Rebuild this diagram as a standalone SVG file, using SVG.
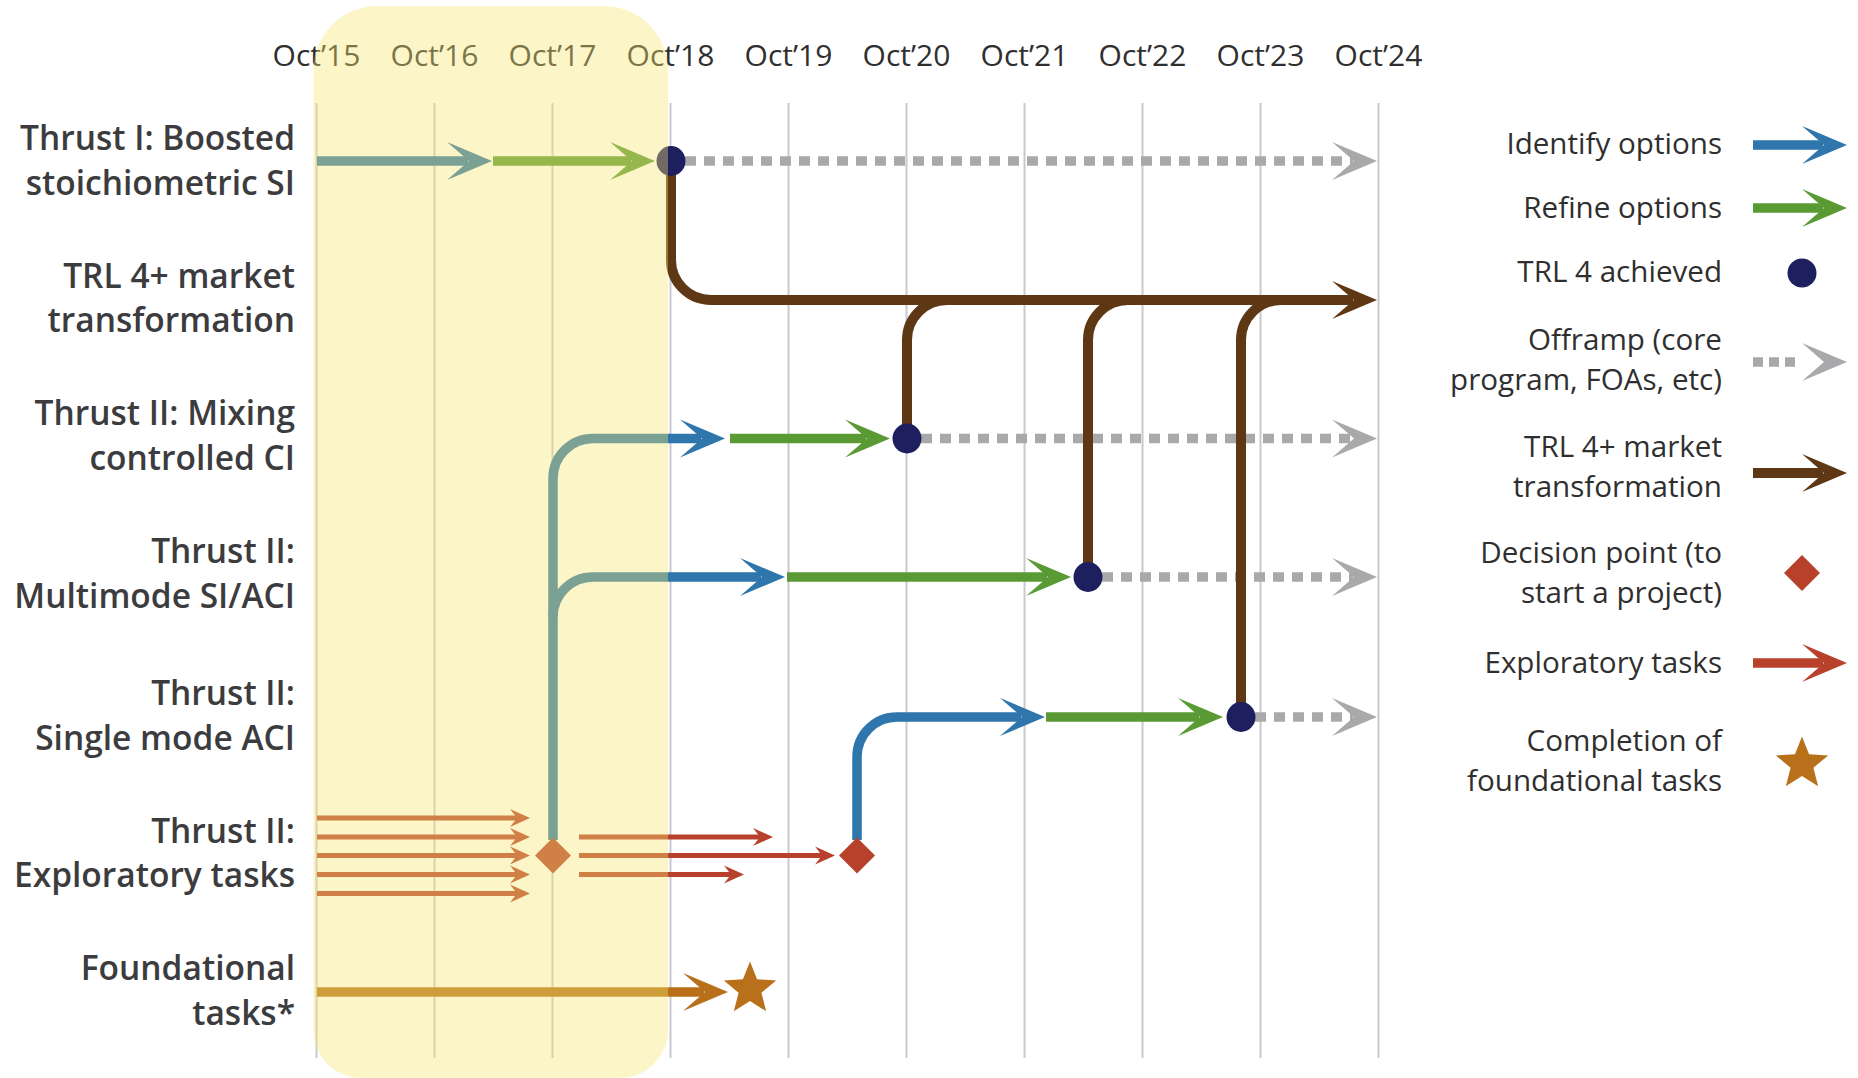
<svg xmlns="http://www.w3.org/2000/svg" xmlns:xlink="http://www.w3.org/1999/xlink" width="1858" height="1078" viewBox="0 0 1858 1078">
  <style>
    .year { font-family: "Open Sans", "Noto Sans", "Liberation Sans", sans-serif; font-size: 30px; fill: #2f2f2f; text-anchor: middle; }
    .row { font-family: "Open Sans", "Noto Sans", "Liberation Sans", sans-serif; font-size: 33.5px; font-weight: 600; fill: #3c3c3e; text-anchor: end; }
    .key { font-family: "Open Sans", "Noto Sans", "Liberation Sans", sans-serif; font-size: 29.6px; fill: #2f2f2f; text-anchor: end; }
    .grid line { stroke: #c9c9cd; stroke-width: 2; }
    .shaft { fill: none; stroke-width: 9.5; stroke-linecap: butt; }
    .thin { fill: none; stroke-width: 4.8; stroke: #b8412c; }
    .blue { stroke: #2e76ab; }
    .green { stroke: #5a9a34; }
    .brown { stroke: #5e3714; stroke-width: 10; }
    .gold { stroke: #b8701b; }
    .off { stroke: #a9a9ab; stroke-dasharray: 11 8; }
    .trl { fill: #1d1f5f; }
    .decision { fill: #b8412c; }
    .done { fill: #b8701b; }
  </style>
  <defs>
    <!-- notched arrowhead, tip 24 px ahead of the shaft end -->
    <path id="head" d="M24,0 L-21,-19 L1,0 L-21,19 Z"/>
    <!-- small arrowhead for the thin exploratory-task lines -->
    <path id="head-s" d="M10,0 L-10,-9 L-3,0 L-10,9 Z"/>
    <path id="diamond" d="M0,-18 L18,0 L0,18 L-18,0 Z"/>
    <path id="star" d="M0,-27.5 L7.05,-9.71 L26.16,-8.5 L11.41,3.71 L16.16,22.25 L0,12 L-16.16,22.25 L-11.41,3.71 L-26.16,-8.5 L-7.05,-9.71 Z"/>
    <marker id="m-blue" markerUnits="userSpaceOnUse" orient="auto" overflow="visible" markerWidth="1" markerHeight="1"><use xlink:href="#head" fill="#2e76ab"/></marker>
    <marker id="m-green" markerUnits="userSpaceOnUse" orient="auto" overflow="visible" markerWidth="1" markerHeight="1"><use xlink:href="#head" fill="#5a9a34"/></marker>
    <marker id="m-gray" markerUnits="userSpaceOnUse" orient="auto" overflow="visible" markerWidth="1" markerHeight="1"><use xlink:href="#head" fill="#a9a9ab"/></marker>
    <marker id="m-brown" markerUnits="userSpaceOnUse" orient="auto" overflow="visible" markerWidth="1" markerHeight="1"><use xlink:href="#head" fill="#5e3714"/></marker>
    <marker id="m-red" markerUnits="userSpaceOnUse" orient="auto" overflow="visible" markerWidth="1" markerHeight="1"><use xlink:href="#head" fill="#b8412c"/></marker>
    <marker id="m-gold" markerUnits="userSpaceOnUse" orient="auto" overflow="visible" markerWidth="1" markerHeight="1"><use xlink:href="#head" fill="#b8701b"/></marker>
    <marker id="m-red-s" markerUnits="userSpaceOnUse" orient="auto" overflow="visible" markerWidth="1" markerHeight="1"><use xlink:href="#head-s" fill="#b8412c"/></marker>
  </defs>

  <rect width="1858" height="1078" fill="#ffffff"/>

  <!-- yearly grid -->
  <g id="grid" class="grid">
    <line x1="316.5" y1="103" x2="316.5" y2="1058"/>
    <line x1="434.5" y1="103" x2="434.5" y2="1058"/>
    <line x1="552.5" y1="103" x2="552.5" y2="1058"/>
    <line x1="670.5" y1="103" x2="670.5" y2="1058"/>
    <line x1="788.5" y1="103" x2="788.5" y2="1058"/>
    <line x1="906.5" y1="103" x2="906.5" y2="1058"/>
    <line x1="1024.5" y1="103" x2="1024.5" y2="1058"/>
    <line x1="1142.5" y1="103" x2="1142.5" y2="1058"/>
    <line x1="1260.5" y1="103" x2="1260.5" y2="1058"/>
    <line x1="1378.5" y1="103" x2="1378.5" y2="1058"/>
  </g>

  <g id="years">
    <text class="year" x="316.5" y="66">Oct’15</text>
    <text class="year" x="434.5" y="66">Oct’16</text>
    <text class="year" x="552.5" y="66">Oct’17</text>
    <text class="year" x="670.5" y="66">Oct’18</text>
    <text class="year" x="788.5" y="66">Oct’19</text>
    <text class="year" x="906.5" y="66">Oct’20</text>
    <text class="year" x="1024.5" y="66">Oct’21</text>
    <text class="year" x="1142.5" y="66">Oct’22</text>
    <text class="year" x="1260.5" y="66">Oct’23</text>
    <text class="year" x="1378.5" y="66">Oct’24</text>
  </g>

  <!-- row labels -->
  <g id="row-thrust1"><text class="row" x="295" y="150">Thrust I: Boosted</text><text class="row" x="295" y="195">stoichiometric SI</text></g>
  <g id="row-market"><text class="row" x="295" y="288">TRL 4+ market</text><text class="row" x="295" y="332">transformation</text></g>
  <g id="row-mixing"><text class="row" x="295" y="425">Thrust II: Mixing</text><text class="row" x="295" y="470">controlled CI</text></g>
  <g id="row-multimode"><text class="row" x="295" y="563">Thrust II:</text><text class="row" x="295" y="608">Multimode SI/ACI</text></g>
  <g id="row-singlemode"><text class="row" x="295" y="705">Thrust II:</text><text class="row" x="295" y="750">Single mode ACI</text></g>
  <g id="row-exploratory"><text class="row" x="295" y="843">Thrust II:</text><text class="row" x="295" y="887">Exploratory tasks</text></g>
  <g id="row-foundational"><text class="row" x="295" y="980">Foundational</text><text class="row" x="295" y="1025">tasks*</text></g>

  <!-- timeline arrows -->
  <g id="connectors">
    <!-- offramps -->
    <path class="shaft off" d="M685,161 H1353" marker-end="url(#m-gray)"/>
    <path class="shaft off" d="M921,438.5 H1353" marker-end="url(#m-gray)"/>
    <path class="shaft off" d="M1102,577 H1353" marker-end="url(#m-gray)"/>
    <path class="shaft off" d="M1255,717 H1353" marker-end="url(#m-gray)"/>

    <!-- Thrust I -->
    <path class="shaft blue" d="M317,161 H468" marker-end="url(#m-blue)"/>
    <path class="shaft green" d="M493,161 H631" marker-end="url(#m-green)"/>

    <!-- Mixing controlled CI and Multimode branch from the Oct'17 decision -->
    <path class="shaft blue" d="M553,840 V478.5 A40,40 0 0 1 593,438.5 H701" marker-end="url(#m-blue)"/>
    <path class="shaft green" d="M730,438.5 H866" marker-end="url(#m-green)"/>
    <path class="shaft blue" d="M553,617 A40,40 0 0 1 593,577 H761" marker-end="url(#m-blue)"/>
    <path class="shaft green" d="M787,577 H1047" marker-end="url(#m-green)"/>

    <!-- Single mode ACI from the Oct'19 decision -->
    <path class="shaft blue" d="M857,840 V757 A40,40 0 0 1 897,717 H1021" marker-end="url(#m-blue)"/>
    <path class="shaft green" d="M1046,717 H1199" marker-end="url(#m-green)"/>

    <!-- market transformation trunk and its feeders -->
    <path class="shaft brown" d="M671,161 V260 A40,40 0 0 0 711,300 H1353" marker-end="url(#m-brown)"/>
    <path class="shaft brown" d="M907,438.5 V340 A40,40 0 0 1 947,300"/>
    <path class="shaft brown" d="M1088,577 V340 A40,40 0 0 1 1128,300"/>
    <path class="shaft brown" d="M1241,717 V340 A40,40 0 0 1 1281,300"/>

    <!-- exploratory tasks -->
    <path class="thin" d="M317,818 H520" marker-end="url(#m-red-s)"/>
    <path class="thin" d="M317,837 H520" marker-end="url(#m-red-s)"/>
    <path class="thin" d="M317,855.5 H520" marker-end="url(#m-red-s)"/>
    <path class="thin" d="M317,874.5 H520" marker-end="url(#m-red-s)"/>
    <path class="thin" d="M317,893.5 H520" marker-end="url(#m-red-s)"/>
    <path class="thin" d="M579,837 H763" marker-end="url(#m-red-s)"/>
    <path class="thin" d="M579,855.5 H825" marker-end="url(#m-red-s)"/>
    <path class="thin" d="M579,874.5 H734" marker-end="url(#m-red-s)"/>

    <!-- foundational tasks -->
    <path class="shaft gold" d="M317,992 H704" marker-end="url(#m-gold)"/>
  </g>

  <!-- milestones -->
  <g id="trl4-thrust1"><ellipse class="trl" cx="671" cy="161" rx="14.5" ry="15"/></g>
  <g id="trl4-mixing"><ellipse class="trl" cx="907" cy="438.5" rx="14.5" ry="15"/></g>
  <g id="trl4-multimode"><ellipse class="trl" cx="1088" cy="577" rx="14.5" ry="15"/></g>
  <g id="trl4-singlemode"><ellipse class="trl" cx="1241" cy="717" rx="14.5" ry="15"/></g>
  <g id="decision-oct17"><use xlink:href="#diamond" class="decision" x="553" y="855.5"/></g>
  <g id="decision-oct19"><use xlink:href="#diamond" class="decision" x="857" y="855.5"/></g>
  <g id="foundational-done"><use xlink:href="#star" class="done" x="750" y="989"/></g>

  <!-- first three years highlighted -->
  <path id="period-highlight" d="M313.5,70 A64,64 0 0 1 377.5,6 H604 A64,64 0 0 1 668,70 V1030 A48,48 0 0 1 620,1078 H361.5 A48,48 0 0 1 313.5,1030 Z" fill="#f7e570" fill-opacity="0.385"/>

  <!-- key -->
  <g id="legend">
    <g id="key-identify">
      <text class="key" x="1722" y="154">Identify options</text>
      <path class="shaft blue" d="M1753,145 H1823" marker-end="url(#m-blue)"/>
    </g>
    <g id="key-refine">
      <text class="key" x="1722" y="218">Refine options</text>
      <path class="shaft green" d="M1753,208 H1823" marker-end="url(#m-green)"/>
    </g>
    <g id="key-trl4">
      <text class="key" x="1722" y="282">TRL 4 achieved</text>
      <circle class="trl" cx="1802" cy="273" r="14.5"/>
    </g>
    <g id="key-offramp">
      <text class="key" x="1722" y="350">Offramp (core</text>
      <text class="key" x="1722" y="390">program, FOAs, etc)</text>
      <path class="shaft" d="M1753,362 H1797" stroke="#a9a9ab" stroke-dasharray="10 6"/>
      <use xlink:href="#head" fill="#a9a9ab" transform="translate(1823,362)"/>
    </g>
    <g id="key-market">
      <text class="key" x="1722" y="457">TRL 4+ market</text>
      <text class="key" x="1722" y="497">transformation</text>
      <path class="shaft brown" d="M1753,473 H1823" marker-end="url(#m-brown)"/>
    </g>
    <g id="key-decision">
      <text class="key" x="1722" y="563">Decision point (to</text>
      <text class="key" x="1722" y="603">start a project)</text>
      <use xlink:href="#diamond" class="decision" x="1802" y="573"/>
    </g>
    <g id="key-exploratory">
      <text class="key" x="1722" y="673">Exploratory tasks</text>
      <path class="shaft" d="M1753,663 H1823" stroke="#b8412c" marker-end="url(#m-red)"/>
    </g>
    <g id="key-foundational">
      <text class="key" x="1722" y="751">Completion of</text>
      <text class="key" x="1722" y="791">foundational tasks</text>
      <use xlink:href="#star" class="done" x="1802" y="764"/>
    </g>
  </g>
</svg>
